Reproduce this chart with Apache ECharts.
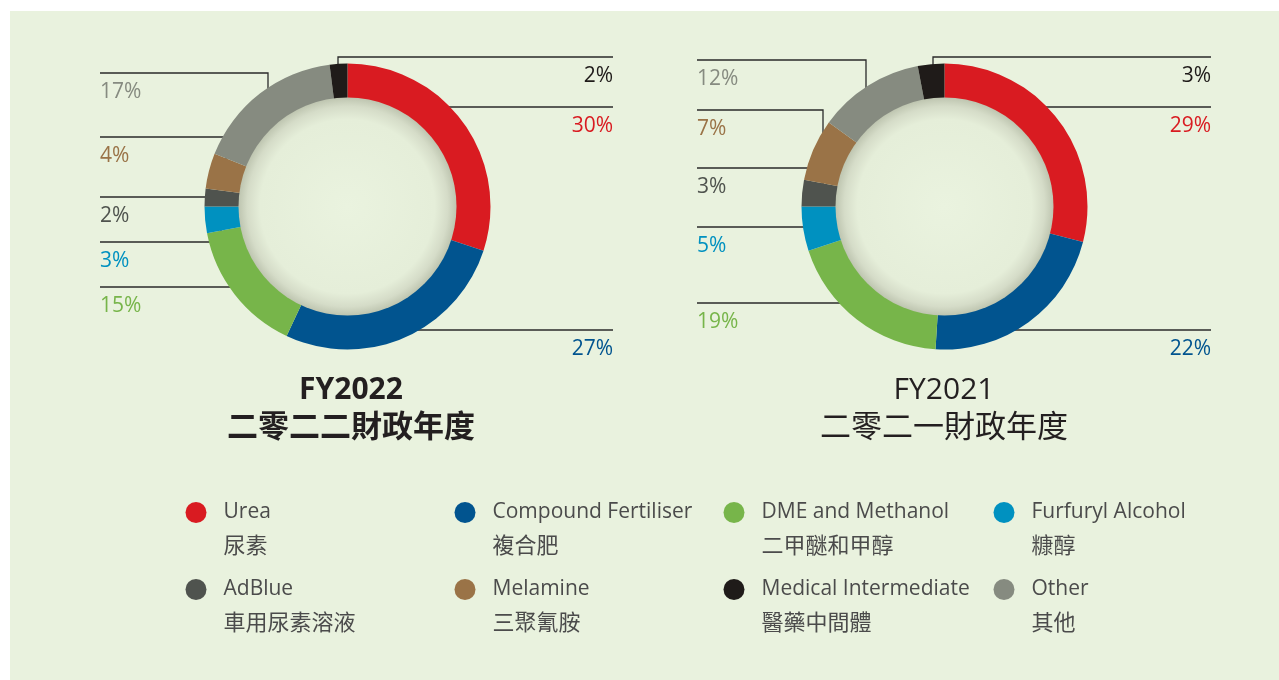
<!DOCTYPE html>
<html>
<head>
<meta charset="utf-8">
<script src="https://cdn.jsdelivr.net/npm/echarts@6/dist/echarts.min.js"></script>
<style>
html, body { margin: 0; padding: 0; background: #fff; }
#main { width: 1279px; height: 680px; }
</style>
</head>
<body>
<div id="main"></div>
<script>
// 数据
const namesEn = ['Urea', 'Compound Fertiliser', 'DME and Methanol', 'Furfuryl Alcohol', 'AdBlue', 'Melamine', 'Other', 'Medical Intermediate'];
const namesZh = ['尿素', '複合肥', '二甲醚和甲醇', '糠醇', '車用尿素溶液', '三聚氰胺', '其他', '醫藥中間體'];
const fy2022 = [30, 27, 15, 3, 2, 4, 17, 2];
const fy2021 = [29, 22, 19, 5, 3, 7, 12, 3];
const yearsEn = ['FY2022', 'FY2021'];
const yearsZh = ['二零二二財政年度', '二零二一財政年度'];
const legendOrder = ['Urea', 'Compound Fertiliser', 'DME and Methanol', 'Furfuryl Alcohol', 'AdBlue', 'Melamine', 'Medical Intermediate', 'Other'];

// 样式
const colors = ['#d91b21', '#01548f', '#77b54a', '#0091c0', '#4f534e', '#9a7347', '#868b80', '#1f1b19'];
const centers = [[347.5, 206.5], [944.5, 206.5]];
const titleX = [351, 944];
const legendPos = [[196, 512], [465, 512], [734, 512], [1004, 512], [196, 589], [465, 589], [734, 589], [1004, 589]];
// 引导线 (label end first)
const linePts = [
    [
        [[613, 107], [441, 107]],
        [[613, 330], [397, 330]],
        [[100, 287], [242, 287]],
        [[100, 242], [221, 242], [221, 221]],
        [[100, 197], [221, 197]],
        [[100, 137], [226, 137], [226, 178]],
        [[100, 73], [268, 73], [268, 112]],
        [[613, 57], [338, 57], [338, 66]]
    ],
    [
        [[1211, 107], [1038, 107]],
        [[1211, 330], [993, 330]],
        [[697, 303], [862, 303]],
        [[697, 227], [822, 227]],
        [[697, 168], [823, 168], [823, 199]],
        [[697, 110], [823, 110], [823, 150]],
        [[697, 60], [866, 60], [866, 106]],
        [[1211, 57], [933, 57], [933, 66]]
    ]
];
const font = "'Open Sans', 'Noto Sans CJK TC', sans-serif";
const cjk = "'Noto Sans CJK TC', sans-serif";

var myChart = echarts.init(document.getElementById('main'));

function pieSeries(values, idx) {
    return {
        type: 'pie',
        center: centers[idx],
        radius: [108, 143],
        startAngle: 90,
        clockwise: true,
        avoidLabelOverlap: false,
        emphasis: { disabled: true },
        silent: true,
        label: {
            show: true,
            position: 'outside',
            formatter: '{c}%',
            fontSize: 21,
            fontFamily: font
        },
        labelLine: {
            show: true,
            lineStyle: { color: '#2a2a2a', width: 1.3 }
        },
        labelLayout: function (p) {
            const pts = linePts[idx][p.dataIndex];
            const right = pts[0][0] > centers[idx][0];
            return {
                x: pts[0][0],
                y: pts[0][1] + 19.5,
                align: right ? 'right' : 'left',
                verticalAlign: 'middle',
                labelLinePoints: pts
            };
        },
        data: values.map((v, i) => ({
            name: namesEn[i],
            value: v,
            itemStyle: { color: colors[i] },
            label: { color: colors[i] }
        }))
    };
}

const titles = [];
yearsEn.forEach((t, i) => {
    titles.push({
        text: t, left: titleX[i], top: 375, textAlign: 'center', padding: 0,
        textStyle: { fontSize: 30, fontWeight: i === 0 ? 'bold' : 'normal', fontFamily: font, color: '#231f20' }
    });
    titles.push({
        text: yearsZh[i], left: titleX[i], top: 410, textAlign: 'center', padding: 0,
        textStyle: { fontSize: 31, fontWeight: i === 0 ? 'bold' : 'normal', fontFamily: cjk, color: '#231f20' }
    });
});

const legends = legendOrder.map((n, i) => ({
    data: [n],
    left: legendPos[i][0] - 10.5,
    top: legendPos[i][1] - 10.5 - 31,
    padding: 0,
    icon: 'circle',
    itemWidth: 21,
    itemHeight: 21,
    selectedMode: false,
    formatter: function (name) {
        return '{sp| }\n{en|' + name + '}\n{zh|' + namesZh[namesEn.indexOf(name)] + '}';
    },
    textStyle: {
        rich: {
            sp: { fontSize: 20, lineHeight: 32, padding: [0, 0, 0, 12] },
            en: { fontSize: 21, lineHeight: 32, fontFamily: font, color: '#4b4b4b', padding: [0, 0, 0, 12] },
            zh: { fontSize: 22, lineHeight: 32, fontFamily: cjk, color: '#4b4b4b', padding: [0, 0, 0, 12] }
        }
    }
}));

myChart.setOption({
    backgroundColor: '#fff',
    animation: false,
    title: titles,
    legend: legends,
    graphic: [
        { type: 'rect', z: -10, silent: true, shape: { x: 10, y: 11, width: 1269, height: 669 }, style: { fill: '#e9f2de' } }
    ].concat(centers.map(c => ({
        type: 'circle', z: 100, silent: true,
        shape: { cx: c[0], cy: c[1], r: 109 },
        style: {
            fill: {
                type: 'radial', x: 0.5, y: 0.5, r: 0.5,
                colorStops: [
                    { offset: 0, color: '#eaf3df' },
                    { offset: 0.8, color: '#e5eed9' },
                    { offset: 0.92, color: '#d5dcc8' },
                    { offset: 1, color: '#bec5b0' }
                ]
            }
        }
    }))),
    series: [pieSeries(fy2022, 0), pieSeries(fy2021, 1)]
});
</script>
</body>
</html>
